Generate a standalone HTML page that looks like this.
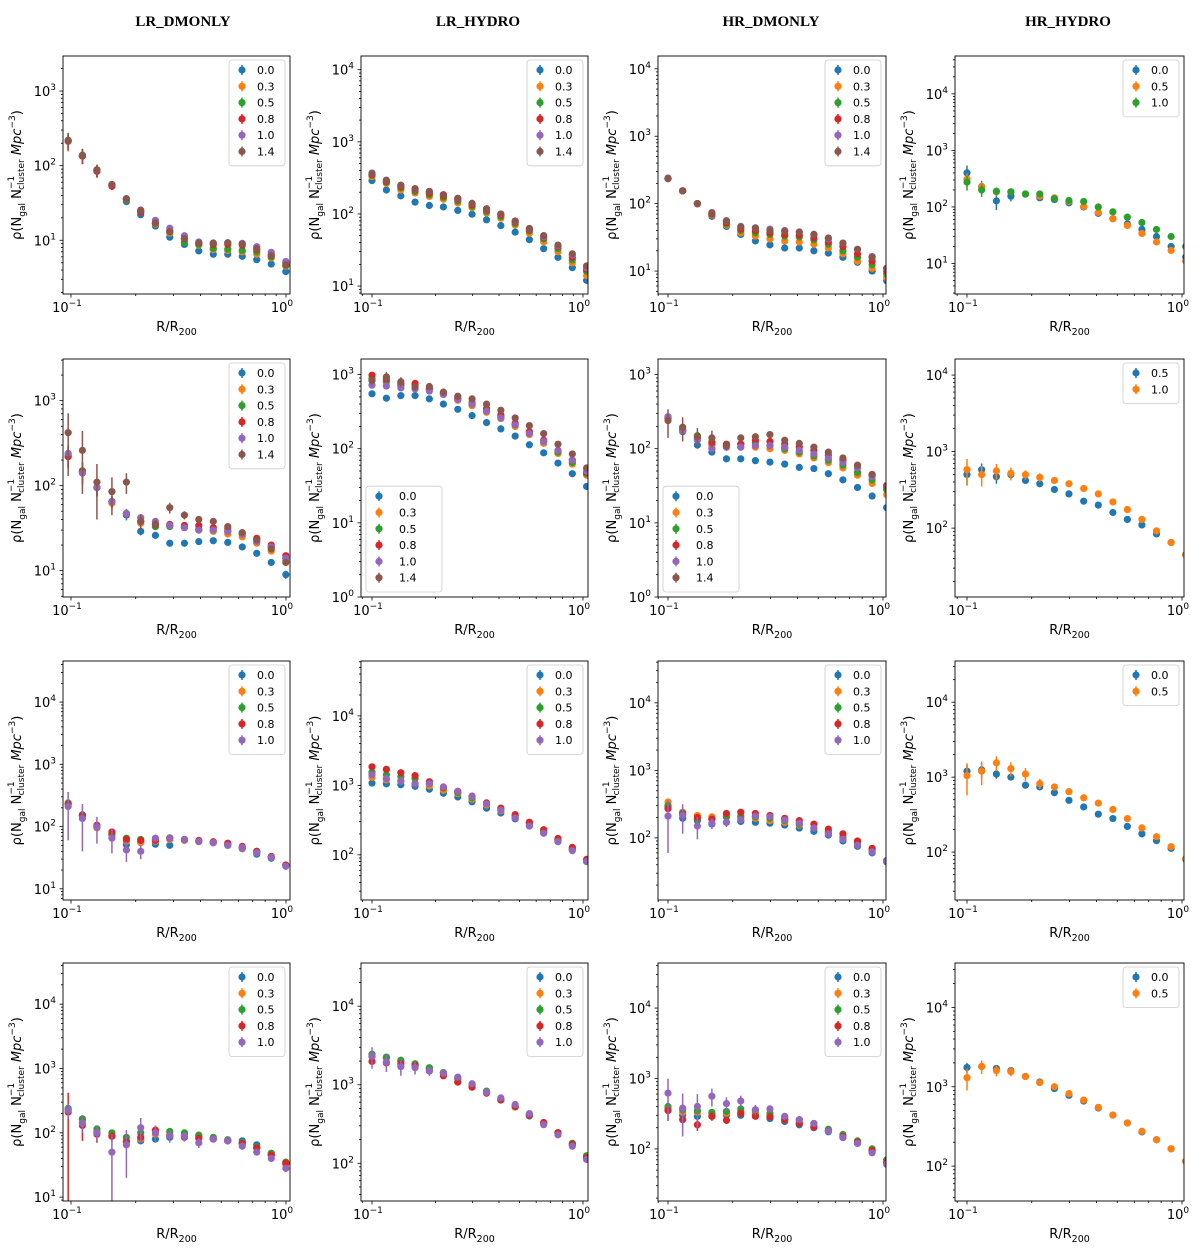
<!DOCTYPE html>
<html><head><meta charset="utf-8"><style>
html,body{margin:0;padding:0;background:#fff;width:1200px;height:1252px;overflow:hidden;}
svg{display:block;overflow:hidden;font-family:"DejaVu Sans","Liberation Sans",sans-serif;}
</style></head><body>
<svg id="fig" width="1200" height="1252" viewBox="0 0 1200 1252" xmlns="http://www.w3.org/2000/svg">
<text x="183" y="26" text-anchor="middle" font-family="Liberation Serif, serif" font-weight="bold" font-size="15">LR_DMONLY</text>
<text x="478" y="26" text-anchor="middle" font-family="Liberation Serif, serif" font-weight="bold" font-size="15">LR_HYDRO</text>
<text x="771" y="26" text-anchor="middle" font-family="Liberation Serif, serif" font-weight="bold" font-size="15">HR_DMONLY</text>
<text x="1068" y="26" text-anchor="middle" font-family="Liberation Serif, serif" font-weight="bold" font-size="15">HR_HYDRO</text>
</svg>
<script>
// ---------- data ----------
const R_col1 = [0.097,0.113,0.132,0.155,0.181,0.211,0.247,0.288,0.337,0.393,0.459,0.536,0.626,0.731,0.854,0.998];
const R_other = [0.100,0.117,0.137,0.160,0.187,0.218,0.255,0.298,0.349,0.408,0.477,0.557,0.651,0.761,0.890,1.040];
const labels6 = ['0.0','0.3','0.5','0.8','1.0','1.4'];
const labels5 = ['0.0','0.3','0.5','0.8','1.0'];
const labels3 = ['0.0','0.5','1.0'];
const labelsB = ['0.5','1.0'];
const labels2 = ['0.0','0.5'];
const xTicks = [0.1, 1];
const xTickLabels = ['10','10'];
const xTickExps = ['\u22121','0'];

const r1c1_a = [215,135,85,54,33,22,15.5,11,8.8,7.2,6.5,6.5,6.1,5.5,4.8,3.8];
const r1c1_b = [210,135,85,55,35,24,16.5,12.5,10,8.6,7.5,7.3,7.0,6.5,5.8,4.5];
const r1c1_c = [220,135,86,55,35,24,17,13,9.3,8.8,7.8,7.6,7.3,7.0,6.0,4.6];
const r1c1_d = [215,135,84,53,36,24,17,13.5,10.5,9.2,8.8,8.8,8.6,7.5,6.5,5.0];
const r1c1_e = [215,138,88,56,36,25.5,18.5,14.5,11.5,9.5,9.2,9.3,9.1,8.2,6.9,5.2];
const r1c1_f = [215,138,88,56,36,25,17,13,10.5,9.2,9.2,9.2,8.9,7.7,6.2,4.7];
const r1c1_err = [55,30,15,6,3,1.5,1,0.6,0.4,0.3,0.3,0.3,0.3,0.3,0.3,0.3];
const r1c2_a = [290,215,178,146,131,125,112,99,83,69,56,44,33,25,18,12];
const r1c2_b = [330,265,215,195,175,160,142,122,103,87,70,54,41,30,21,14];
const r1c2_c = [345,275,230,205,185,170,150,128,108,92,74,58,45,33,23,16];
const r1c2_d = [350,280,240,215,195,178,158,134,113,96,77,60,47,35,25,17];
const r1c2_e = [370,295,250,222,205,185,163,140,117,99,79,62,48,36,27,18];
const r1c2_f = [360,290,250,225,205,185,165,140,118,100,80,63,50,37,28,19];
const r1c3_a = [235,155,100,65,46,35,28,24.5,22,22,20,18.5,16,13.5,10,7.2];
const r1c3_b = [235,155,100,68,48,37,33,30,28,27,25,22,18,14,11,8];
const r1c3_c = [235,155,100,70,50,40,37,35,33,32,29,25,20,16,12.5,9];
const r1c3_d = [235,155,100,70,52,42,40,37,35,34,31,27,23,18,14,10];
const r1c3_e = [240,155,100,74,56,46,44,42,40,38,35,30,26,21,16.5,11];
const r1c3_f = [235,155,100,72,55,45,43,40,39,38,35,31,26,21,16,11];
const r1c4_a = [400,230,128,155,168,145,135,118,100,77,62,50,40,30,20,13];
const r1c4_b = [310,225,185,185,170,155,145,125,102,80,62,47,34,24,17,11];
const r1c4_c = [275,200,190,185,170,170,140,130,125,100,82,66,53,40,30,20];
const r1c4_errA = [140,60,40,30,20,10,8,5,4,3,2,2,2,1,1,1];
const r1c4_errC = [80,50,30,15,10,8,5,4,3,2,2,2,1,1,1,1];
const r2c1_a = [220,145,95,65,45,29,26,21,21,22,22.5,21.5,19,16,12.5,9];
const r2c1_b = [225,145,95,62,47,36,33,34,32,30,29,27,25,21,17,13];
const r2c1_c = [230,150,95,65,47,38,33,33,33,31,30,29,27,23,19,14];
const r2c1_d = [220,145,95,65,47,38,35,35,34,34,32,31,27,24,20,15];
const r2c1_e = [240,140,95,65,47,42,38,34,32,30,30,29,27,22,19,14];
const r2c1_f = [420,260,110,85,110,38,35,55,45,40,38,33,28,23,18,12.5];
const r2c1_errF = [290,180,70,40,30,8,5,8,5,4,3,3,2,2,1,1];
const r2c1_errA = [60,40,20,10,6,3,2,1,1,1,1,1,1,1,1,1];
const r2c2_a = [550,480,520,520,470,400,340,280,225,185,148,113,88,64,46,31];
const r2c2_b = [860,780,700,680,620,540,450,380,310,255,200,155,118,86,62,44];
const r2c2_c = [880,820,720,720,640,560,470,400,330,270,210,165,125,90,65,46];
const r2c2_d = [980,870,760,760,650,560,480,420,350,285,220,170,130,95,70,48];
const r2c2_e = [720,700,660,640,600,540,460,400,320,260,210,160,125,95,70,50];
const r2c2_f = [830,930,800,680,690,580,510,470,400,330,260,205,160,115,85,55];
const r2c2_errF = [100,150,120,40,30,20,15,10,8,6,5,4,3,2,2,1];
const r2c3_a = [260,170,112,90,73,73,69,66,62,56,54,46,38,30,23,16];
const r2c3_b = [260,175,135,110,105,105,105,100,95,85,75,65,55,44,34,24];
const r2c3_c = [260,180,150,125,110,115,120,110,100,90,80,70,60,48,38,28];
const r2c3_d = [260,180,140,120,115,115,130,125,115,105,95,82,70,55,45,32];
const r2c3_e = [270,175,130,100,105,105,110,110,105,95,85,75,65,55,42,30];
const r2c3_f = [240,195,145,140,110,140,145,155,130,118,105,90,75,60,45,30];
const r2c3_errF = [100,70,45,35,15,15,15,10,8,6,5,4,3,2,2,1];
const r2c4_a = [500,580,470,500,420,380,320,280,225,200,160,130,110,84,65,45];
const r2c4_b = [580,500,560,520,500,460,420,380,330,280,220,175,130,92,65,45];
const r2c4_errA = [140,120,90,60,40,30,15,10,8,6,5,4,3,3,2,2];
const r2c4_errB = [220,150,130,100,70,60,30,20,10,8,6,5,4,3,2,2];
const r3c1_a = [230,150,100,75,51,56,52,50,60,58,55,50,44,36,31,24];
const r3c1_b = [225,145,95,72,58,55,58,62,60,57,55,50,45,38,32,24];
const r3c1_c = [240,155,100,75,65,62,63,66,62,58,56,51,46,40,33,24];
const r3c1_d = [230,150,105,82,62,60,60,65,62,60,57,54,48,40,33,24];
const r3c1_e = [210,135,98,65,42,40,65,65,62,58,55,50,46,38,32,23];
const r3c1_errE = [150,95,45,28,15,10,8,6,4,4,3,3,2,2,2,1];
const r3c2_a = [1080,1050,1020,970,880,770,680,580,470,400,330,260,205,155,118,80];
const r3c2_b = [1300,1200,1150,1100,980,850,760,630,520,430,350,270,212,160,120,82];
const r3c2_c = [1550,1420,1330,1250,1050,920,790,660,540,450,360,280,220,165,122,82];
const r3c2_d = [1850,1700,1520,1380,1130,930,820,700,560,470,380,295,230,172,128,86];
const r3c2_e = [1420,1250,1160,1050,1060,950,820,690,540,440,340,260,205,155,115,80];
const r3c3_a = [290,195,180,160,170,175,170,165,155,140,125,110,90,75,60,44];
const r3c3_b = [340,240,215,205,205,200,195,180,170,155,140,125,105,88,68,46];
const r3c3_c = [300,235,190,190,205,210,205,195,180,160,140,120,100,85,65,46];
const r3c3_d = [270,225,200,190,230,240,230,215,195,180,160,135,115,90,70,46];
const r3c3_e = [210,215,150,165,170,185,210,205,185,165,140,115,95,78,62,45];
const r3c3_errE = [150,100,55,30,25,20,10,8,6,5,4,3,3,2,2,1];
const r3c4_a = [1200,1250,1100,1000,780,740,620,490,400,320,280,220,175,142,112,80];
const r3c4_b = [1050,1200,1550,1300,1100,820,740,640,530,450,370,280,210,160,118,82];
const r3c4_errA = [250,300,150,80,50,40,30,20,15,10,8,6,5,4,3,2];
const r3c4_errB = [480,420,350,280,220,130,80,60,40,20,15,10,8,6,4,3];
const r4c1_a = [230,160,105,90,75,75,80,85,90,85,80,75,75,65,48,33];
const r4c1_b = [225,150,105,90,75,80,95,95,95,88,82,76,70,58,45,32];
const r4c1_c = [240,165,115,100,85,100,105,105,100,92,85,78,70,60,48,35];
const r4c1_d = [210,130,95,88,72,85,110,90,85,82,80,75,68,58,45,34];
const r4c1_e = [225,140,100,50,65,120,100,90,88,70,80,75,62,50,40,28];
const r4c1_errD = [210,55,25,15,10,10,12,8,6,5,4,3,3,2,2,2];
const r4c1_errE = [60,40,25,45,45,50,30,20,15,12,8,5,4,3,2,2];
const r4c2_a = [2300,2200,2000,1800,1600,1420,1200,1000,800,640,520,400,320,240,175,118];
const r4c2_b = [2400,2200,2000,1800,1600,1400,1200,1000,810,660,520,410,320,240,175,118];
const r4c2_c = [2450,2250,2050,1850,1650,1430,1200,1000,830,660,530,420,330,245,180,125];
const r4c2_d = [1980,1900,1850,1750,1500,1300,1080,930,780,640,530,410,330,245,175,118];
const r4c2_e = [2300,1950,1700,1650,1500,1400,1250,1030,800,680,560,430,310,230,165,112];
const r4c2_errE = [700,500,400,300,200,100,60,40,20,15,10,8,6,4,3,2];
const r4c3_a = [370,300,290,290,300,300,310,270,245,220,200,175,145,120,92,62];
const r4c3_b = [380,330,330,320,320,340,330,290,260,240,210,180,150,125,95,64];
const r4c3_c = [400,360,350,330,340,370,350,320,280,260,230,190,160,130,100,70];
const r4c3_d = [350,260,220,290,255,320,290,285,260,230,205,180,150,125,95,65];
const r4c3_e = [620,380,400,560,440,480,360,370,290,260,230,180,145,120,88,60];
const r4c3_errE = [370,230,200,160,100,90,60,40,20,15,10,8,6,4,3,2];
const r4c3_errD = [100,60,40,40,30,20,10,8,6,5,4,3,3,2,2,2];
const r4c4_a = [1750,1800,1700,1600,1350,1150,950,780,660,540,440,350,270,215,165,115];
const r4c4_b = [1300,1800,1600,1550,1350,1130,1000,820,680,550,440,350,275,215,165,115];
const r4c4_errA = [250,200,120,80,40,30,20,15,10,8,6,5,4,3,2,2];
const r4c4_errB = [400,350,250,200,60,40,30,20,15,10,8,6,4,3,2,2];

const yLimits = [
  [[0.28,3.47],[0.89,4.19],[0.66,4.19],[0.46,4.67]],
  [[0.69,3.49],[0.0,3.21],[0.0,3.21],[1.10,4.21]],
  [[0.82,4.66],[1.35,4.79],[1.08,4.62],[1.36,4.55]],
  [[0.94,4.64],[1.52,4.55],[1.26,4.64],[1.56,4.56]]
];

const panels = [
  {r:0,c:0,labels:labels6,series:[r1c1_a,r1c1_b,r1c1_c,r1c1_d,r1c1_e,r1c1_f],errs:[r1c1_err,r1c1_err,r1c1_err,r1c1_err,r1c1_err,r1c1_err],leg:'tr'},
  {r:0,c:1,labels:labels6,series:[r1c2_a,r1c2_b,r1c2_c,r1c2_d,r1c2_e,r1c2_f],errs:[],leg:'tr'},
  {r:0,c:2,labels:labels6,series:[r1c3_a,r1c3_b,r1c3_c,r1c3_d,r1c3_e,r1c3_f],errs:[],leg:'tr'},
  {r:0,c:3,labels:labels3,series:[r1c4_a,r1c4_b,r1c4_c],errs:[r1c4_errA,r1c4_errC,r1c4_errC],leg:'tr'},
  {r:1,c:0,labels:labels6,series:[r2c1_a,r2c1_b,r2c1_c,r2c1_d,r2c1_e,r2c1_f],errs:[r2c1_errA,r2c1_errA,r2c1_errA,r2c1_errA,r2c1_errA,r2c1_errF],leg:'tr'},
  {r:1,c:1,labels:labels6,series:[r2c2_a,r2c2_b,r2c2_c,r2c2_d,r2c2_e,r2c2_f],errs:[null,null,null,null,null,r2c2_errF],leg:'bl'},
  {r:1,c:2,labels:labels6,series:[r2c3_a,r2c3_b,r2c3_c,r2c3_d,r2c3_e,r2c3_f],errs:[null,null,null,null,null,r2c3_errF],leg:'bl'},
  {r:1,c:3,labels:labelsB,series:[r2c4_a,r2c4_b],errs:[r2c4_errA,r2c4_errB],leg:'tr'},
  {r:2,c:0,labels:labels5,series:[r3c1_a,r3c1_b,r3c1_c,r3c1_d,r3c1_e],errs:[null,null,null,null,r3c1_errE],leg:'tr'},
  {r:2,c:1,labels:labels5,series:[r3c2_a,r3c2_b,r3c2_c,r3c2_d,r3c2_e],errs:[],leg:'tr'},
  {r:2,c:2,labels:labels5,series:[r3c3_a,r3c3_b,r3c3_c,r3c3_d,r3c3_e],errs:[null,null,null,null,r3c3_errE],leg:'tr'},
  {r:2,c:3,labels:labels2,series:[r3c4_a,r3c4_b],errs:[r3c4_errA,r3c4_errB],leg:'tr'},
  {r:3,c:0,labels:labels5,series:[r4c1_a,r4c1_b,r4c1_c,r4c1_d,r4c1_e],errs:[null,null,null,r4c1_errD,r4c1_errE],leg:'tr'},
  {r:3,c:1,labels:labels5,series:[r4c2_a,r4c2_b,r4c2_c,r4c2_d,r4c2_e],errs:[null,null,null,null,r4c2_errE],leg:'tr'},
  {r:3,c:2,labels:labels5,series:[r4c3_a,r4c3_b,r4c3_c,r4c3_d,r4c3_e],errs:[null,null,null,r4c3_errD,r4c3_errE],leg:'tr'},
  {r:3,c:3,labels:labels2,series:[r4c4_a,r4c4_b],errs:[r4c4_errA,r4c4_errB],leg:'tr'}
];

const colors = ['#1f77b4','#ff7f0e','#2ca02c','#d62728','#9467bd','#8c564b'];
const colLeft = [63,361,658,955], colRight = [290,588,886,1184];
const colP10 = [71,372,668,967], colP0 = [286,583,883,1182];
const rowTop = [56,359,661,963], rowBot = [294,597,900,1201];
const NS = 'http://www.w3.org/2000/svg';
const svg = document.getElementById('fig');
function mk(tag, attrs, parent){const e=document.createElementNS(NS,tag);for(const k in attrs)e.setAttribute(k,attrs[k]);(parent||svg).appendChild(e);return e;}

panels.forEach((p,pi)=>{
  const L=colLeft[p.c], Rr=colRight[p.c], T=rowTop[p.r], B=rowBot[p.r];
  const ppd = colP0[p.c]-colP10[p.c];
  const xmin = -1 - (colP10[p.c]-L)/ppd;
  const xs = v => L + (Math.log10(v)-xmin)*ppd;
  const [ylo,yhi] = yLimits[p.r][p.c];
  const ys = v => B - (Math.log10(v)-ylo)/(yhi-ylo)*(B-T);
  const clampY = y => Math.min(B, Math.max(T, y));
  const R = p.c===0 ? R_col1 : R_other;
  const g = mk('g',{});
  
  
  const cp = mk('clipPath',{id:'cp'+pi},g);
  mk('rect',{x:L,y:T,width:Rr-L,height:B-T},cp);
  for(let d=Math.floor(ylo); d<=Math.ceil(yhi); d++){
    for(let m=1;m<10;m++){
      const lv = d+Math.log10(m);
      if(lv<ylo-1e-9||lv>yhi+1e-9) continue;
      const y = B-(lv-ylo)/(yhi-ylo)*(B-T);
      mk('line',{x1:L-(m===1?3.5:2),x2:L,y1:y,y2:y,stroke:'#000','stroke-width':0.8},g);
      if(m===1){
        const t = mk('text',{x:L-7,y:y+5,'text-anchor':'end','font-size':13},g);
        
        
        t.textContent='10';
        const s = mk('tspan',{dy:-6,'font-size':9},t); s.textContent=String(d);
      }
    }
  }
  for(let d=-2; d<=0; d++){
    for(let m=1;m<10;m++){
      const lv=d+Math.log10(m);
      const x = L+(lv-xmin)*ppd;
      if(x<L-0.5||x>Rr+0.5) continue;
      mk('line',{x1:x,x2:x,y1:B,y2:B+(m===1?3.5:2),stroke:'#000','stroke-width':0.8},g);
    }
  }
  xTicks.forEach((tv,i)=>{
    const x = xs(tv);
    const t = mk('text',{x:x-4,y:B+18,'text-anchor':'middle','font-size':13},g);
    
    
    t.textContent=xTickLabels[i];
    const s = mk('tspan',{dy:-6,'font-size':9},t); s.textContent=xTickExps[i];
  });
  const xl = mk('text',{x:(L+Rr)/2,y:B+37,'text-anchor':'middle','font-size':13},g);
  
  
  xl.textContent='R/R';
  const xs2 = mk('tspan',{dy:4,'font-size':9.5},xl); xs2.textContent='200';
  const yx = L-42, yy=(T+B)/2;
  const yl = mk('text',{x:0,y:0,'text-anchor':'middle','font-size':13,transform:'translate('+yx+','+yy+') rotate(-90)'},g);
  
  
  const parts=[['\u03c1(N',0,13,''],['gal',4,9,''],[' N',-4,13,''],['\u22121',-7,9,''],['cluster',10,9,'back'],[' ',-3,13,''],['Mpc',0,13,'it'],['\u22123',-6,9,''],[')',6,13,'']];
  parts.forEach(pt=>{const s=mk('tspan',{dy:pt[1],'font-size':pt[2]},yl); if(pt[3]==='it')s.setAttribute('font-style','italic'); if(pt[3]==='back')s.setAttribute('dx',-14); s.textContent=pt[0];});
  const dg = mk('g',{'clip-path':'url(#cp'+pi+')'},g);
  p.series.forEach((vals,si)=>{
    const sg = mk('g',{},dg);
    
    
    const err = p.errs[si];
    vals.forEach((v,i)=>{
      const x=xs(R[i]), y=ys(v);
      if(x>Rr+4) return;
      if(err){
        const lo=Math.max(v-err[i],1e-3), hi=v+err[i];
        mk('line',{x1:x,x2:x,y1:clampY(ys(lo)),y2:clampY(ys(hi)),stroke:colors[si],'stroke-width':1.5},sg);
      }
      const c = mk('circle',{cx:x,cy:y,r:3.6,fill:colors[si]},sg);
      
      
    });
  });
  mk('rect',{x:L,y:T,width:Rr-L,height:B-T,fill:'none',stroke:'#000','stroke-width':0.9},g);
  const n=p.labels.length, lh=16.3;
  const lw = p.leg==='bl'?76:56;
  const lx = p.leg==='bl'? L+5 : Rr-lw-5;
  const lhgt = n*lh+8;
  const ly = p.leg==='bl'? B-lhgt-5 : T+4;
  const lg = mk('g',{},g);
  
  
  mk('rect',{x:lx,y:ly,width:lw,height:lhgt,rx:3,fill:'#fff','fill-opacity':0.85,stroke:'#ccc','stroke-width':0.8},lg);
  p.labels.forEach((lab,i)=>{
    const cy = ly+10+i*lh;
    const mxp = lx+13;
    mk('line',{x1:mxp,x2:mxp,y1:cy-5,y2:cy+5,stroke:colors[i],'stroke-width':1.5},lg);
    mk('circle',{cx:mxp,cy:cy,r:3.6,fill:colors[i]},lg);
    const t = mk('text',{x:lx+(p.leg==='bl'?33:28),y:cy+4,'font-size':11},lg);
    
    
    t.textContent=lab;
  });
});
</script>
</body></html>
